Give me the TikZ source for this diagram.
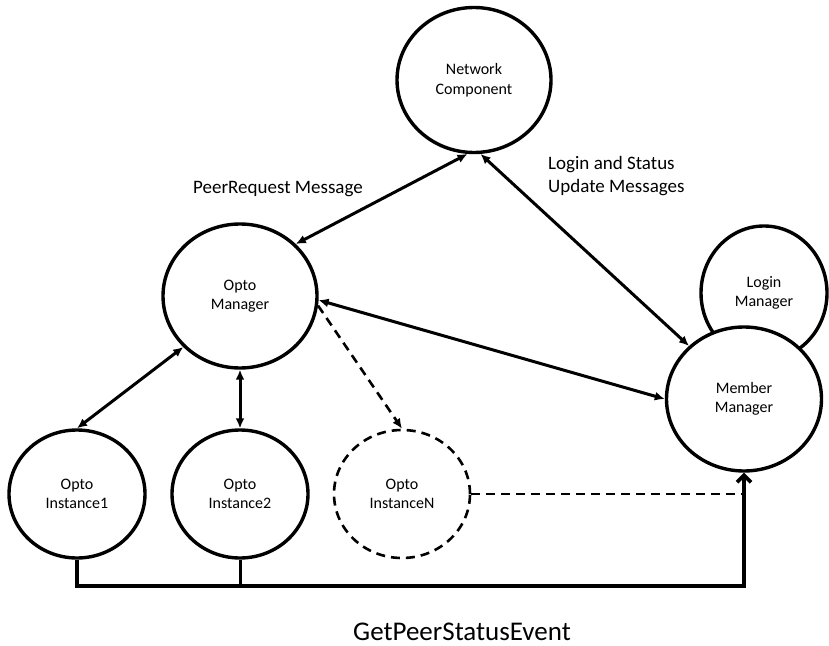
\documentclass[tikz,border=0pt]{standalone}
\usepackage{fontspec}
\setmainfont{Carlito}
\usetikzlibrary{positioning}
\usetikzlibrary{arrows.meta}
\usetikzlibrary{shapes.geometric}
\tikzset{proc/.style={ellipse, draw, line width=3.4bp, fill=white, inner sep=0pt, align=center, font=\fontsize{16bp}{19.5bp}\selectfont}}
\tikzset{link/.style={line width=3bp, {Latex[length=10bp,width=9bp]}-{Latex[length=10bp,width=9bp]}}}
\tikzset{dashlink/.style={line width=2.6bp, dash pattern=on 9bp off 6bp}}
\tikzset{lbl/.style={font=\fontsize{19bp}{23bp}\selectfont, align=left, inner sep=0pt}}

\begin{document}
\begin{tikzpicture}[x=1bp, y=-1bp]
\useasboundingbox (0,0) rectangle (829,646);

\node[proc, minimum width=154bp, minimum height=145bp] (net) at (474,80) {Network\\Component};
\node[proc, minimum width=154bp, minimum height=144bp] (mgr) at (240,296) {Opto\\Manager};
\node[proc, minimum width=126bp, minimum height=134bp] (login) at (764,293) {Login\\Manager};
\node[proc, minimum width=155bp, minimum height=144bp] (mem) at (744,399) {Member\\Manager};
\node[proc, minimum width=136bp, minimum height=128bp] (i1) at (77,494) {Opto\\Instance1};
\node[proc, minimum width=136bp, minimum height=128bp] (i2) at (240,494) {Opto\\Instance2};
\node[proc, dash pattern=on 9bp off 6bp, line width=2.6bp, minimum width=136bp, minimum height=128bp] (iN) at (402,494) {Opto\\InstanceN};

\draw[link] (net.265) -- (mgr.43);
\draw[link] (net.275) -- (mem.136);
\draw[link] (mgr.-3) -- (mem.west);
\draw[link] (mgr.222) -- (i1.north);
\draw[link] (mgr.south) -- (i2.north);
\draw[dashlink, -{Latex[length=10bp,width=9bp]}] (mgr.-7) -- (iN.north);
\draw[dashlink] (iN.east) -- (iN.east -| mem.south);

% event bus to the member manager
\draw[line width=3.6bp, -{Straight Barb[length=7bp,width=14bp]}] (i1.south) |- (mem.south |- 0,586) -- (mem.south);
\draw[line width=3bp] (i2.south) -- (i2.south |- 0,586);

\node[lbl, anchor=base west] (peerlbl) at (193,194) {PeerRequest Message};
\node[lbl, anchor=base west] (loginlbl) at (548,193) {Login and Status\\Update Messages};
\node[font=\fontsize{27bp}{32bp}\selectfont, anchor=base, inner sep=0pt] (evtlbl) at (462,640) {GetPeerStatusEvent};
\end{tikzpicture}
\end{document}
